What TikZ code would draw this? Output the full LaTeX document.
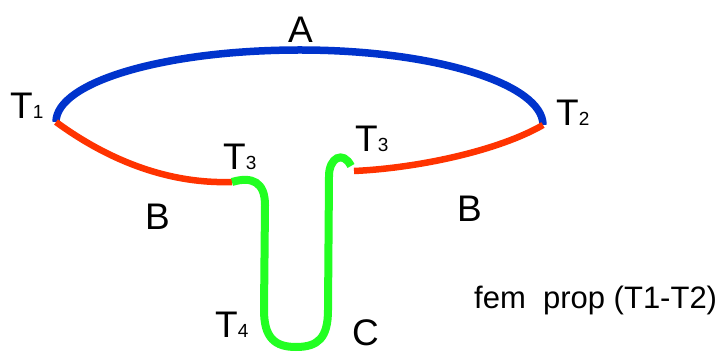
\documentclass[tikz,border=0pt]{standalone}
\usepackage{fontspec}
\setmainfont{Liberation Sans}
\definecolor{arcblue}{RGB}{0,51,204}
\definecolor{arcred}{RGB}{255,51,0}
\definecolor{arcgreen}{RGB}{34,255,34}
\begin{document}
\begin{tikzpicture}[x=1pt,y=-1pt,
  biglabel/.style={font=\fontsize{37}{40}\selectfont, inner sep=0pt, anchor=base west},
  captext/.style={font=\fontsize{31}{34}\selectfont, inner sep=0pt, anchor=base west},
  bluecurve/.style={draw=arcblue, line width=7.5pt},
  redcurve/.style={draw=arcred, line width=6.5pt},
  greencurve/.style={draw=arcgreen, line width=8pt}]
\useasboundingbox (0,0) rectangle (719,352);
\newcommand{\subd}[1]{{\fontsize{19}{20}\selectfont #1}}
% junction points
\coordinate (t1) at (56,122);
\coordinate (t2) at (543,125);
\coordinate (top) at (300,50);
\coordinate (t3a) at (232,182);
\coordinate (t3b) at (354,171);
\coordinate (gtop) at (351,166);
% A arc (blue)
\draw[bluecurve] (t1) .. controls (56,82) and (165,50) .. (top)
  .. controls (435,50) and (543,84) .. (t2);
% B arcs (red)
\draw[redcurve] (t1) .. controls (112,163) and (172,184) .. (t3a);
\draw[redcurve] (t3b) .. controls (420,168) and (500,150) .. (t2);
% C loop (green)
\draw[greencurve] (t3a) .. controls (252,176) and (265,182) .. (265,205)
  -- (264,310) .. controls (264,338) and (275,347) .. (296,347)
  .. controls (318,347) and (328,338) .. (328,310)
  -- (329,176) .. controls (329,158) and (343,150) .. (gtop);
% labels
\node[biglabel] (la) at (288,43) {A};
\node[biglabel] (lt1) at (10,119) {T\subd{1}};
\node[biglabel] (lt2) at (556,126) {T\subd{2}};
\node[biglabel] (lt3a) at (223,170) {T\subd{3}};
\node[biglabel] (lt3b) at (355,152) {T\subd{3}};
\node[biglabel] (lt4) at (215,337) {T\subd{4}};
\node[biglabel] (lb1) at (145,230) {B};
\node[biglabel] (lb2) at (457,222) {B};
\node[biglabel] (lc) at (352,345) {C};
\node[captext] (fem) at (474,308) {fem\ \ prop (T1-T2)};
\end{tikzpicture}
\end{document}
